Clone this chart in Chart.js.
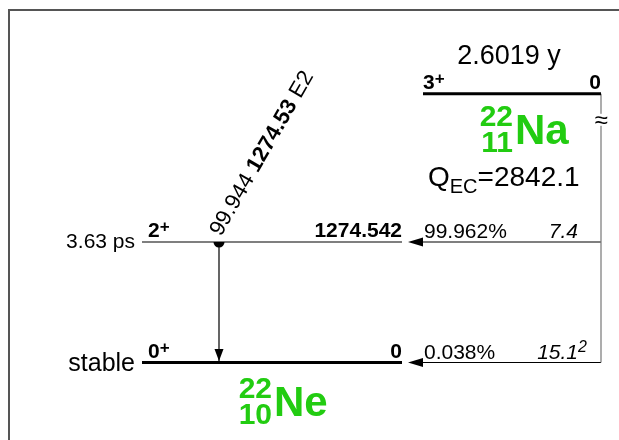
<!DOCTYPE html>
<html>
<head>
<meta charset="utf-8">
<script src="https://cdn.jsdelivr.net/npm/chart.js@4/dist/chart.umd.min.js"></script>
<style>
  html, body { margin: 0; padding: 0; background: #fff; }
  canvas { display: block; }
</style>
</head>
<body>
<canvas id="scheme" width="619" height="440"></canvas>
<script>
// 22Na -> 22Ne decay scheme. Vertical axis is excitation energy in keV.

// Parent (22Na)
const parentSymbol = ['22', '11', 'Na'];          // mass, Z, element
const parentSpin = ['3', '+'];
const parentHalfLife = '2.6019 y';
const parentLevelLabel = '0';
const qValue = 2842.1;                              // Q_EC, keV

// Daughter (22Ne) levels
const daughterSymbol = ['22', '10', 'Ne'];
const levelEnergies = [0, 1274.542];
const levelEnergyLabels = ['0', '1274.542'];
const levelSpins = [['0', '+'], ['2', '+']];
const levelHalfLives = ['stable', '3.63 ps'];

// Decay branches feeding each daughter level
const feedPercents = ['0.038%', '99.962%'];
const logFt = ['15.1', '7.4'];
const logFtSuper = ['2', ''];

// Gamma transitions
const gammaFrom = [1274.542];
const gammaTo = [0];
const gammaIntensity = ['99.944'];
const gammaEnergy = ['1274.53'];
const gammaMult = ['E2'];

// Horizontal placement of the drawing (layout units = pixels across)
const X = { levelL: 142, levelR: 402, parentL: 423, parentR: 601, feedX: 601, feedTip: 408, gammaX: 219 };
const FONT = '"Liberation Sans", Arial, Helvetica, sans-serif';

const levelDatasets = levelEnergies.map((e) => ({
  data: [{ x: X.levelL, y: e }, { x: X.levelR, y: e }],
  borderColor: '#000',
  borderWidth: e === 0 ? 3 : 1.2,
  showLine: true, pointRadius: 0
}));

const parentDataset = {
  data: [{ x: X.parentL, y: qValue }, { x: X.parentR, y: qValue }],
  borderColor: '#000', borderWidth: 3, showLine: true, pointRadius: 0
};

const feedVertical = {
  data: [{ x: X.feedX, y: qValue }, { x: X.feedX, y: Math.min(...levelEnergies) }],
  borderColor: '#777', borderWidth: 1.2, showLine: true, pointRadius: 0
};

const feedBranches = levelEnergies.map((e) => ({
  data: [{ x: X.feedX, y: e }, { x: X.feedTip + 8, y: e }],
  borderColor: '#000', borderWidth: 1.2, showLine: true, pointRadius: 0
}));

const gammaDatasets = gammaFrom.map((e, i) => ({
  data: [{ x: X.gammaX, y: e }, { x: X.gammaX, y: gammaTo[i] }],
  borderColor: '#000', borderWidth: 1.2, showLine: true, pointRadius: 0
}));

function font(size, weight, style) {
  return (style || 'normal') + ' ' + (weight || 'normal') + ' ' + size + 'px ' + FONT;
}

// Write text followed by a raised or lowered smaller part
function textWithScript(ctx, x, y, main, script, mainFont, scriptFont, dy, align) {
  ctx.font = mainFont;
  const w1 = ctx.measureText(main).width;
  let x0 = x;
  if (align === 'right') x0 = x - w1;
  ctx.textAlign = 'left';
  ctx.fillText(main, x0, y);
  if (script) { ctx.font = scriptFont; ctx.fillText(script, x0 + w1, y + dy); }
}

function nuclide(ctx, xSym, ySym, parts) {
  ctx.fillStyle = '#22cc11';
  ctx.textAlign = 'right';
  ctx.font = font(30, 'bold');
  ctx.fillText(parts[0], xSym - 2, ySym - 18);
  ctx.fillText(parts[1], xSym - 2, ySym + 8);
  ctx.textAlign = 'left';
  ctx.font = font(42, 'bold');
  ctx.fillText(parts[2], xSym, ySym);
}

const schemePlugin = {
  id: 'scheme',
  beforeDraw(chart) {
    const ctx = chart.ctx;
    ctx.save();
    ctx.strokeStyle = '#555';
    ctx.lineWidth = 2;
    ctx.beginPath();
    ctx.moveTo(9, 440); ctx.lineTo(9, 10); ctx.lineTo(619, 10);
    ctx.stroke();
    ctx.restore();
  },
  afterDatasetsDraw(chart) {
    const ctx = chart.ctx;
    const xs = chart.scales.x, ys = chart.scales.y;
    const px = (v) => xs.getPixelForValue(v);
    const py = (v) => ys.getPixelForValue(v);
    ctx.save();
    ctx.fillStyle = '#000';
    ctx.textBaseline = 'alphabetic';

    // Parent level
    const yP = py(qValue);
    textWithScript(ctx, px(X.parentL), yP - 5, parentSpin[0], parentSpin[1], font(21, 'bold'), font(17, 'bold'), -5, 'left');
    ctx.font = font(21, 'bold'); ctx.textAlign = 'right';
    ctx.fillText(parentLevelLabel, px(X.parentR), yP - 5);
    ctx.font = font(27); ctx.textAlign = 'center';
    ctx.fillText(parentHalfLife, 509, yP - 30);
    nuclide(ctx, 515, yP + 50, parentSymbol);
    ctx.fillStyle = '#000';
    // Q value
    ctx.font = font(28); ctx.textAlign = 'left';
    const qx = 428, qy = yP + 92;
    ctx.fillText('Q', qx, qy);
    let w = ctx.measureText('Q').width;
    ctx.font = font(20);
    ctx.fillText('EC', qx + w, qy + 7);
    w += ctx.measureText('EC').width;
    ctx.font = font(28);
    ctx.fillText('=' + qValue.toFixed(1), qx + w, qy);

    // break mark on the feeding line
    ctx.fillStyle = '#fff';
    ctx.fillRect(px(X.feedX) - 8, yP + 20, 16, 12);
    ctx.fillStyle = '#000';
    ctx.font = font(24); ctx.textAlign = 'center';
    ctx.fillText('\u2248', px(X.feedX), yP + 34);

    // Daughter levels
    levelEnergies.forEach((e, i) => {
      const y = py(e);
      const ground = e === 0;
      textWithScript(ctx, px(X.levelL) + 6, y - 5, levelSpins[i][0], levelSpins[i][1], font(21, 'bold'), font(17, 'bold'), -5, 'left');
      ctx.font = font(21, 'bold'); ctx.textAlign = 'right';
      ctx.fillText(levelEnergyLabels[i], px(X.levelR), y - 5);
      ctx.font = font(ground ? 25 : 21); ctx.textAlign = 'right';
      ctx.fillText(levelHalfLives[i], px(X.levelL) - 7, y + (ground ? 8 : 6));
      // branch intensity and log ft
      ctx.font = font(21); ctx.textAlign = 'left';
      ctx.fillText(feedPercents[i], 424, y - 4);
      textWithScript(ctx, 578, y - 4, logFt[i], logFtSuper[i], font(21, 'normal', 'italic'), font(16, 'normal', 'italic'), -7, 'right');
      // arrowhead of branch
      ctx.beginPath();
      ctx.moveTo(px(X.feedTip), y);
      ctx.lineTo(px(X.feedTip) + 15, y - 4.5);
      ctx.lineTo(px(X.feedTip) + 15, y + 4.5);
      ctx.closePath();
      ctx.fill();
    });
    nuclide(ctx, 274, py(0) + 53, daughterSymbol);
    ctx.fillStyle = '#000';

    // Gamma transitions
    gammaFrom.forEach((e, i) => {
      const x = px(X.gammaX), y1 = py(e), y2 = py(gammaTo[i]) - 1.5;
      ctx.beginPath();
      ctx.arc(x, y1, 5.5, 0, Math.PI);
      ctx.closePath();
      ctx.fill();
      ctx.beginPath();
      ctx.moveTo(x, y2);
      ctx.lineTo(x - 4.5, y2 - 12);
      ctx.lineTo(x + 4.5, y2 - 12);
      ctx.closePath();
      ctx.fill();
      // label along the transition
      ctx.save();
      ctx.translate(x + 2, y1 - 5);
      ctx.rotate(-60 * Math.PI / 180);
      ctx.textAlign = 'left';
      ctx.font = font(22);
      const a = gammaIntensity[i] + ' ';
      ctx.fillText(a, 0, 0);
      let off = ctx.measureText(a).width;
      ctx.font = font(22, 'bold');
      ctx.fillText(gammaEnergy[i], off, 0);
      off += ctx.measureText(gammaEnergy[i]).width;
      ctx.font = font(22);
      ctx.fillText(' ' + gammaMult[i], off, 0);
      ctx.restore();
    });
    ctx.restore();
  }
};

// y range chosen so 1 keV spans about 0.0946 px
const yMax = 3834.2, yMin = -819.7;

new Chart(document.getElementById('scheme'), {
  type: 'scatter',
  data: { datasets: [...levelDatasets, parentDataset, feedVertical, ...feedBranches, ...gammaDatasets] },
  options: {
    responsive: false,
    animation: false,
    devicePixelRatio: 1,
    layout: { padding: 0 },
    plugins: { legend: { display: false }, tooltip: { enabled: false } },
    scales: {
      x: { type: 'linear', min: 0, max: 619, display: false },
      y: { type: 'linear', min: yMin, max: yMax, display: false }
    }
  },
  plugins: [schemePlugin]
});
</script>
</body>
</html>
